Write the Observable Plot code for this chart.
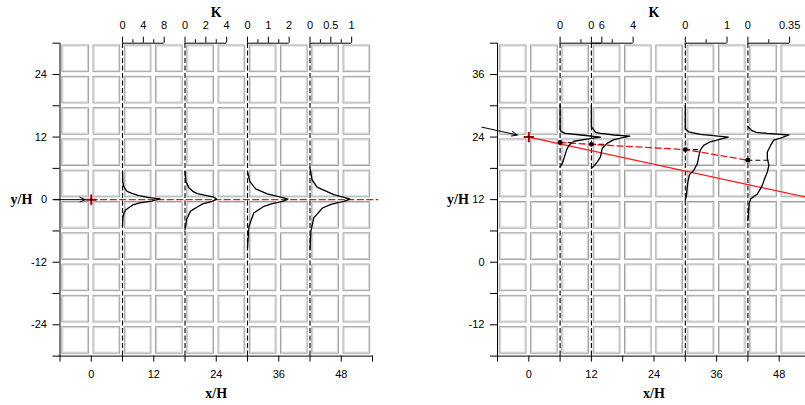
<!DOCTYPE html>
<html><head><meta charset="utf-8">
<script src="https://cdn.jsdelivr.net/npm/d3@7"></script>
<script src="https://cdn.jsdelivr.net/npm/@observablehq/plot@0.6"></script>
<style>
html,body{margin:0;padding:0;background:#fff;overflow:hidden;}
#wrap{display:flex;width:814px;height:405px;}
#wrap svg{display:block;flex:none;}
</style></head><body><div id="wrap"></div>
<script>
// ---------- axes ----------
const xTicks = [-6,0,6,12,18,24,30,36,42,48,54];
const xTickLabels = [0,12,24,36,48];
const leftYTicks = [-30,-24,-18,-12,-6,0,6,12,18,24,30];
const leftYTickLabels = [-24,-12,0,12,24];
const rightYTicks = [-18,-12,-6,0,6,12,18,24,30,36,42];
const rightYTickLabels = [-12,0,12,24,36];

// ---------- building blocks (centres, x/H units) ----------
const blockColumns = [-3,3,9,15,21,27,33,39,45,51];
const leftBlockRows = [-27,-21,-15,-9,-3,3,9,15,21,27];
const rightBlockRows = [-15,-9,-3,3,9,15,21,27,33,39];

// ---------- measuring stations & K axes ----------
const leftStations = [6,18,30,42];
const leftKmax = [8,4,2,1];
const leftKTicks = [[0,2,4,6,8],[0,1,2,3,4],[0,0.5,1,1.5,2],[0,0.25,0.5,0.75,1]];
const leftKLabels = [[0,4,8],[0,2,4],[0,1,2],[0,0.5,1]];

const rightStations = [6,12,30,42];
const rightKmax = [6,4,1,0.35];
const rightKTicks = [[0,3,6],[0,2,4],[0,0.5,1],[0,0.175,0.35]];
const rightKLabels = [[0,6],[0,4],[0,1],[0,0.35]];

// ---------- K profiles (left panel) ----------
const left1Y = [5.4,3.5,2.6,2.0,1.6,1.2,0.8,0.45,0.13,-0.3,-0.6,-1.0,-1.4,-2.0,-2.6,-3.4,-5.0];
const left1K = [0,0.05,0.2,0.55,0.9,1.8,3.0,4.8,7.2,5.6,3.3,2.0,1.4,0.6,0.25,0.08,0];
const left2Y = [5.4,3.5,2.3,1.6,1.15,0.5,0.1,-0.33,-0.8,-1.4,-2.2,-3.8,-5.7];
const left2K = [0,0.08,0.37,0.75,1.18,2.77,3.03,2.62,1.7,1.18,0.53,0.15,0];
const left3Y = [5.4,3.5,2.05,1.1,0.5,0.1,-0.33,-0.8,-1.28,-2.55,-5.1,-9.2];
const left3K = [0,0.11,0.39,0.95,1.59,1.94,1.67,1.15,0.79,0.3,0.07,0];
const left4Y = [6.1,3.8,2.4,0.95,0.45,0.1,-0.33,-0.9,-1.6,-3.5,-6.1,-9.5];
const left4K = [0,0.05,0.17,0.57,0.81,0.96,0.81,0.5,0.3,0.09,0.02,0];

// ---------- K profiles (right panel) ----------
const right1Y = [30.2,25.6,25.1,24.7,24.4,24.0,23.6,23.2,22.4,21.5,20.2,18.9,18.3];
const right1K = [0,0,0.1,0.75,3.0,5.8,3.8,2.0,1.25,0.92,0.63,0.3,0];
const right2Y = [30.0,26.0,24.9,24.7,24.4,24.2,23.5,22.8,21.8,20.2,19.2,18.3,18.0];
const right2K = [0,0,0.4,0.87,2.2,3.68,2.15,1.5,1.03,0.87,0.55,0.17,0];
const right3Y = [30.0,25.65,25.0,24.5,24.0,23.1,22.4,21.5,20.2,18.9,17.6,16.8,15.3,12.5,11.9];
const right3K = [0,0,0.08,0.36,1.03,0.6,0.44,0.36,0.32,0.29,0.2,0.1,0.06,0.02,0];
const right4Y = [26.0,25.3,24.9,24.7,24.4,23.85,23.4,22.4,21.15,19.9,18.6,17.3,15.7,14.7,13.1,12.15,11.2,8.0];
const right4K = [0,0.03,0.07,0.16,0.344,0.28,0.217,0.19,0.163,0.163,0.176,0.163,0.135,0.12,0.08,0.023,0.01,0];

// plume centre (right panel) at each station
const rightCenterY = [22.96,22.6,21.6,19.56];
const rightCenterK = [1.7,1.4,0.36,0.19];

// sources, reference lines, arrows
const sourceX = [0];
const leftSourceY = [0];
const rightSourceY = [24];
const leftAxisLineX = [0,55];
const leftAxisLineY = [0,0];
const rightAxisLineX = [0,55];
const rightAxisLineY = [24,12.07];
const leftArrow = {x1:-7.2, y1:0, x2:-1.1, y2:0};
const rightArrow = {x1:-9.0, y1:25.9, x2:-2.2, y2:24.4};

// ---------- helpers ----------
const KAXIS = 8;          // length of each K axis in x/H units
const HALF = 2.55;        // half size of a block
const SANS = "'Liberation Sans', Arial, Helvetica, sans-serif";
const SERIF = "'Liberation Serif', 'Times New Roman', serif";
const toX = (s, kmax, k) => s + k * KAXIS / kmax;
const pts = (xs, ys) => xs.map((x,i)=>({x, y: ys[i]}));

function buildPanel(cfg) {
  const [yBot, yTop] = cfg.yDomain;
  const unit = (405 - 42.7 - 49.4) / 60; // px per y unit
  const blocks = blockColumns.flatMap(cx => cfg.blockRows.map(cy => ({cx, cy})));
  const kAxes = cfg.stations.map((s,i)=>({x1: s, x2: toX(s, cfg.kmax[i], cfg.kTicks[i][cfg.kTicks[i].length-1]), y: yTop}));
  const kTicks = cfg.stations.flatMap((s,i)=>cfg.kTicks[i].map(k=>({x: toX(s,cfg.kmax[i],k), major: cfg.kLabels[i].includes(k)})));
  const kLabels = cfg.stations.flatMap((s,i)=>cfg.kLabels[i].map(k=>({x: toX(s,cfg.kmax[i],k), text: String(k)})));
  const profiles = cfg.profiles.flatMap((p,i)=>p.y.map((y,j)=>({id:i, y, x: toX(cfg.stations[i], cfg.kmax[i], p.k[j])})));
  const marks = [
    Plot.rect(blocks, {x1: d=>d.cx-HALF, x2: d=>d.cx+HALF, y1: d=>d.cy-HALF, y2: d=>d.cy+HALF, fill:"white", stroke:"#9e9e9e", strokeWidth:1}),
    Plot.rect(blocks, {x1: d=>d.cx-HALF, x2: d=>d.cx+HALF, y1: d=>d.cy-HALF, y2: d=>d.cy+HALF, inset:1, fill:"none", stroke:"#d2d2d2", strokeWidth:1}),
    Plot.ruleX(cfg.stations, {y1: yBot, y2: yTop, stroke:"black", strokeWidth:1.1, strokeDasharray:"5,2.5"}),
    ...cfg.extra,
    Plot.line(profiles, {x:"x", y:"y", z:"id", stroke:"black", strokeWidth:1.3}),
    Plot.ruleY(kAxes, {x1:"x1", x2:"x2", y:"y", stroke:"black", strokeWidth:1}),
    Plot.ruleX(kTicks, {x:"x", y1: yTop, y2: d=> yTop + (d.major ? 6 : 3.5)/unit, stroke:"black", strokeWidth:1}),
    Plot.text(kLabels, {x:"x", y: yTop, text:"text", dy:-17.5, fontSize:11, fontFamily:SANS}),
    Plot.text(["K"], {frameAnchor:"top", lineAnchor:"middle", textAnchor:"middle", dy:-30.7, fontSize:14, fontWeight:"bold", fontFamily:SERIF}),
    Plot.text(["x/H"], {frameAnchor:"bottom", lineAnchor:"middle", textAnchor:"middle", dy:37.4, fontSize:14, fontWeight:"bold", fontFamily:SERIF}),
    Plot.text(["y/H"], {frameAnchor:"left", lineAnchor:"middle", textAnchor:"middle", dx:cfg.yLabelDx, fontSize:14, fontWeight:"bold", fontFamily:SERIF}),
    Plot.arrow([cfg.arrow], {x1:"x1", y1:"y1", x2:"x2", y2:"y2", stroke:"black", strokeWidth:1, headLength:9, headAngle:45})
  ];
  return Plot.plot({
    width: cfg.width, height: 405,
    marginLeft: cfg.marginLeft, marginRight: cfg.marginRight, marginTop: 42.7, marginBottom: 49.4,
    x: {domain:[-6,54], ticks: xTicks, tickFormat: d => xTickLabels.includes(d) ? String(d) : "", tickSize:6, tickPadding:8, line:true, label:null},
    y: {domain: cfg.yDomain, ticks: cfg.yTicks, tickFormat: d => cfg.yLabels.includes(d) ? String(d) : "", tickSize:7, tickPadding:6, line:true, label:null},
    style: {fontFamily: SANS, fontSize:"11px", color:"black", background:"white", overflow:"visible"},
    marks
  });
}

const leftPanel = buildPanel({
  width: 400, marginLeft: 59.5, marginRight: 28,
  yDomain: [-30,30], yTicks: leftYTicks, yLabels: leftYTickLabels, blockRows: leftBlockRows,
  stations: leftStations, kmax: leftKmax, kTicks: leftKTicks, kLabels: leftKLabels,
  profiles: [{y:left1Y,k:left1K},{y:left2Y,k:left2K},{y:left3Y,k:left3K},{y:left4Y,k:left4K}],
  yLabelDx: -38.5, arrow: leftArrow,
  extra: [
    Plot.line(pts(leftAxisLineX, leftAxisLineY), {x:"x", y:"y", stroke:"#ee1111", strokeWidth:1.4, strokeDasharray:"6,3.5"}),
    Plot.dot(pts(sourceX, leftSourceY), {x:"x", y:"y", symbol:"plus", r:3.4, stroke:"#a00000", strokeWidth:2}),
    Plot.dot(pts(sourceX, leftSourceY), {x:"x", y:"y", r:1, fill:"black"})
  ]
});

const centers = rightStations.map((s,i)=>({x: s, y: rightCenterY[i], xe: toX(s, rightKmax[i], rightCenterK[i])}));
const rightPanel = buildPanel({
  width: 414, marginLeft: 97, marginRight: 4,
  yDomain: [-18,42], yTicks: rightYTicks, yLabels: rightYTickLabels, blockRows: rightBlockRows,
  stations: rightStations, kmax: rightKmax, kTicks: rightKTicks, kLabels: rightKLabels,
  profiles: [{y:right1Y,k:right1K},{y:right2Y,k:right2K},{y:right3Y,k:right3K},{y:right4Y,k:right4K}],
  yLabelDx: -39.5, arrow: rightArrow,
  extra: [
    Plot.line(pts(rightAxisLineX, rightAxisLineY), {x:"x", y:"y", stroke:"#ff1a1a", strokeWidth:1.2}),
    Plot.ruleY(centers, {x1:"x", x2:"xe", y:"y", stroke:"black", strokeWidth:1.1, strokeDasharray:"5,3"}),
    Plot.line(centers, {x:"x", y:"y", stroke:"#ee1111", strokeWidth:1.3, strokeDasharray:"6,3.5"}),
    Plot.dot(centers, {x:"x", y:"y", r:2.4, fill:"black"}),
    Plot.dot(pts(sourceX, rightSourceY), {x:"x", y:"y", symbol:"plus", r:3.4, stroke:"#a00000", strokeWidth:2}),
    Plot.dot(pts(sourceX, rightSourceY), {x:"x", y:"y", r:1, fill:"black"})
  ]
});

const wrap = document.getElementById("wrap");
wrap.appendChild(leftPanel);
wrap.appendChild(rightPanel);
</script></body></html>
